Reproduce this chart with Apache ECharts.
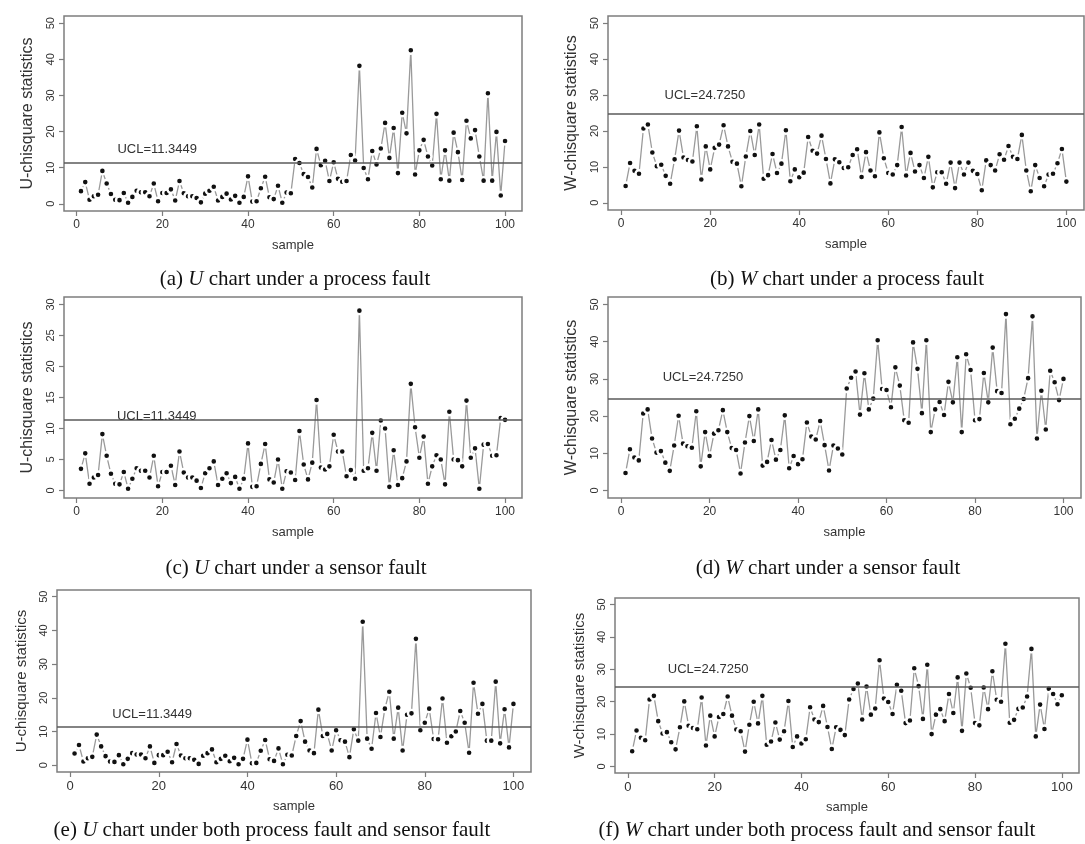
<!DOCTYPE html>
<html>
<head>
<meta charset="utf-8">
<script src="https://cdn.jsdelivr.net/npm/echarts@6/dist/echarts.min.js"></script>
<style>
  html, body { margin: 0; padding: 0; background: #fff; }
  #chart { width: 1085px; height: 844px; }
</style>
</head>
<body>
<div id="chart"></div>
<script>
// sample index on the x axis
const samples = []
for (let i = 1; i <= 100; i++) samples.push(i)

const xTicks = [0, 20, 40, 60, 80, 100]
const yTicks50 = [0, 10, 20, 30, 40, 50]
const yTicks30 = [0, 5, 10, 15, 20, 25, 30]

// in-control part (samples 1-50), shared by all U charts
const uBase = [
  3.5, 6.0, 1.1, 2.1, 2.5, 9.1, 5.6, 2.7, 1.1, 1.0,
  3.0, 0.3, 1.9, 3.6, 3.2, 3.2, 2.1, 5.6, 0.7, 3.0,
  3.0, 4.0, 0.9, 6.3, 2.9, 2.1, 2.1, 1.6, 0.4, 2.8,
  3.6, 4.7, 0.9, 1.9, 2.8, 1.2, 2.2, 0.3, 1.9, 7.6,
  0.6, 0.7, 4.3, 7.5, 1.8, 1.3, 5.0, 0.3, 3.1, 2.9
]
// samples 51-100
const uProcess = [
  12.4, 11.3, 8.2, 7.4, 4.5, 15.2, 10.7, 11.9, 6.3, 11.5,
  6.9, 6.1, 6.3, 13.5, 12.0, 38.2, 9.9, 6.8, 14.6, 10.9,
  15.3, 22.4, 12.7, 21.0, 8.5, 25.2, 19.5, 42.5, 8.1, 14.8,
  17.7, 13.1, 10.6, 24.9, 6.8, 14.8, 6.4, 19.7, 14.3, 6.6,
  23.0, 18.1, 20.4, 13.1, 6.4, 30.6, 6.4, 19.9, 2.3, 17.4
]
const uSensor = [
  1.7, 9.6, 4.2, 1.8, 4.5, 14.6, 3.7, 3.4, 3.9, 9.0,
  6.3, 6.3, 2.3, 3.3, 1.9, 29.0, 3.2, 3.6, 9.3, 3.2,
  11.3, 10.0, 0.6, 6.5, 0.9, 2.0, 4.7, 17.2, 10.2, 5.3,
  8.7, 1.1, 3.9, 5.7, 5.0, 1.0, 12.7, 5.0, 4.9, 3.9,
  14.5, 5.3, 6.8, 0.3, 7.4, 7.5, 5.6, 5.7, 11.7, 11.4
]
const uBoth = [
  8.7, 13.1, 7.0, 4.4, 3.6, 16.5, 8.7, 9.3, 4.4, 10.4,
  7.4, 7.0, 2.4, 10.7, 7.3, 42.6, 7.9, 4.9, 15.5, 8.4,
  16.8, 21.8, 7.9, 17.1, 4.4, 15.0, 15.4, 37.5, 10.4, 12.6,
  16.8, 7.8, 7.7, 19.8, 6.7, 8.6, 10.0, 16.1, 12.6, 3.7,
  24.5, 15.3, 18.2, 7.3, 7.3, 24.8, 6.5, 16.6, 5.3, 18.2
]

// in-control part (samples 1-50), shared by all W charts
const wBase = [
  4.7, 11.1, 8.9, 8.1, 20.7, 21.8, 14.0, 10.2, 10.6, 7.5,
  5.3, 12.1, 20.1, 12.6, 11.9, 11.5, 21.3, 6.5, 15.7, 9.3,
  15.3, 16.2, 21.6, 15.7, 11.4, 10.9, 4.6, 12.9, 20.0, 13.3,
  21.8, 6.7, 7.7, 13.6, 8.3, 10.9, 20.2, 6.0, 9.3, 7.1,
  8.4, 18.3, 14.5, 13.7, 18.7, 12.2, 5.4, 12.1, 11.3, 9.7
]
const wProcess = [
  9.9, 13.3, 14.9, 7.2, 14.1, 9.0, 7.4, 19.6, 12.4, 8.3,
  7.9, 10.5, 21.1, 7.6, 13.9, 8.7, 10.5, 6.9, 12.8, 4.3,
  8.5, 8.5, 5.3, 11.2, 4.1, 11.2, 7.9, 11.2, 8.9, 8.0,
  3.5, 11.8, 10.5, 9.0, 13.5, 12.0, 15.8, 12.8, 12.2, 18.9,
  9.0, 3.2, 10.5, 6.9, 4.6, 7.9, 8.1, 11.0, 15.0, 5.9
]
const wSensor = [
  27.4, 30.3, 32.0, 20.4, 31.5, 21.8, 24.7, 40.4, 27.3, 27.0,
  22.4, 33.1, 28.2, 18.9, 18.2, 39.8, 32.7, 20.8, 40.4, 15.7,
  21.8, 23.8, 20.3, 29.2, 23.7, 35.8, 15.7, 36.6, 32.4, 18.9,
  19.2, 31.6, 23.7, 38.4, 26.7, 26.2, 47.4, 17.8, 19.3, 22.0,
  24.6, 30.2, 46.8, 14.0, 26.8, 16.4, 32.2, 29.1, 24.3, 30.0
]
const wBoth = [
  20.7, 23.9, 25.6, 14.5, 24.7, 16.0, 17.9, 32.8, 21.0, 19.9,
  16.2, 25.2, 23.4, 13.4, 14.2, 30.3, 24.8, 14.7, 31.4, 10.0,
  16.0, 17.7, 14.0, 22.4, 16.5, 27.5, 11.0, 28.7, 24.3, 13.4,
  12.7, 24.4, 17.7, 29.4, 20.6, 20.0, 37.9, 13.5, 14.4, 17.8,
  18.2, 21.6, 36.3, 9.3, 19.1, 11.6, 24.0, 22.4, 19.2, 22.0
]

const uclU = 11.3449
const uclW = 24.725
const uclUText = 'UCL=11.3449'
const uclWText = 'UCL=24.7250'

const captions = [
  '(a) {i|U} chart under a process fault',
  '(b) {i|W} chart under a process fault',
  '(c) {i|U} chart under a sensor fault',
  '(d) {i|W} chart under a sensor fault',
  '(e) {i|U} chart under both process fault and sensor fault',
  '(f) {i|W} chart under both process fault and sensor fault'
]

const panels = [
  { values: uBase.concat(uProcess), ucl: uclU, uclText: uclUText, textAt: [18.8, 15.0], yName: 'U-chisquare statistics', yMin: -2, yMax: 52, ticks: yTicks50,
    grid: { left: 64, top: 16, width: 458, height: 195 }, cap: [295, 279], small: true },
  { values: wBase.concat(wProcess), ucl: uclW, uclText: uclWText, textAt: [18.8, 30.0], yName: 'W-chisquare statistics', yMin: -2, yMax: 52, ticks: yTicks50,
    grid: { left: 608, top: 16, width: 476, height: 194 }, cap: [847, 279], small: true },
  { values: uBase.concat(uSensor), ucl: uclU, uclText: uclUText, textAt: [18.7, 12.0], yName: 'U-chisquare statistics', yMin: -1.2, yMax: 31.2, ticks: yTicks30,
    grid: { left: 64, top: 297, width: 458, height: 201 }, cap: [296, 568], small: true },
  { values: wBase.concat(wSensor), ucl: uclW, uclText: uclWText, textAt: [18.5, 30.3], yName: 'W-chisquare statistics', yMin: -2, yMax: 52, ticks: yTicks50,
    grid: { left: 608, top: 297, width: 473, height: 201 }, cap: [828, 568], small: true },
  { values: uBase.concat(uBoth), ucl: uclU, uclText: uclUText, textAt: [18.5, 15.2], yName: 'U-chisquare statistics', yMin: -2, yMax: 52, ticks: yTicks50,
    grid: { left: 57, top: 590, width: 474, height: 182 }, cap: [272, 830], small: false },
  { values: wBase.concat(wBoth), ucl: uclW, uclText: uclWText, textAt: [18.5, 30.1], yName: 'W-chisquare statistics', yMin: -2, yMax: 52, ticks: yTicks50,
    grid: { left: 615, top: 598, width: 464, height: 175 }, cap: [817, 830], small: false }
]

const boxColor = '#7d7d7d'
const textColor = '#333'
const sans = 'Liberation Sans, Arial, sans-serif'
const serif = 'Liberation Serif, Times New Roman, serif'

const chart = echarts.init(document.getElementById('chart'))

const option = {
  animation: false,
  backgroundColor: '#fff',
  grid: panels.map((p) => ({
    ...p.grid,
    show: true,
    borderColor: boxColor,
    borderWidth: 1.5,
    containLabel: false
  })),
  xAxis: panels.map((p, i) => ({
    type: 'value',
    gridIndex: i,
    min: -2.96,
    max: 103.96,
    name: 'sample',
    nameLocation: 'middle',
    nameGap: 28,
    nameTextStyle: { fontFamily: sans, fontSize: 13, color: textColor },
    axisLine: { show: false, onZero: false },
    axisTick: { show: true, length: 5, customValues: xTicks, lineStyle: { color: boxColor, width: 1.2 } },
    axisLabel: { customValues: xTicks, margin: 8, fontFamily: sans, fontSize: p.small ? 12 : 13, color: textColor },
    splitLine: { show: false }
  })),
  yAxis: panels.map((p, i) => ({
    type: 'value',
    gridIndex: i,
    min: p.yMin,
    max: p.yMax,
    name: p.yName,
    nameLocation: 'middle',
    nameGap: 28,
    nameTextStyle: { fontFamily: sans, fontSize: p.small ? 16 : 15, color: textColor },
    axisLine: { show: false, onZero: false },
    axisTick: { show: true, length: 5, customValues: p.ticks, lineStyle: { color: boxColor, width: 1.2 } },
    axisLabel: { customValues: p.ticks, rotate: 90, margin: 8, fontFamily: sans, fontSize: 11, color: textColor },
    splitLine: { show: false }
  })),
  series: panels.map((p, i) => ({
    type: 'line',
    xAxisIndex: i,
    yAxisIndex: i,
    data: samples.map((s, k) => [s, p.values[k]]),
    symbol: 'circle',
    symbolSize: 7,
    showSymbol: true,
    itemStyle: { color: '#111', borderColor: '#fff', borderWidth: 2.4 },
    lineStyle: { color: '#9a9a9a', width: 1.3 },
    emphasis: { disabled: true },
    markLine: {
      silent: true,
      symbol: 'none',
      label: { show: false },
      lineStyle: { color: '#5a5a5a', width: 1.5, type: 'solid' },
      data: [{ yAxis: p.ucl }]
    },
    markPoint: {
      silent: true,
      symbolSize: 0,
      label: {
        show: true,
        position: 'inside',
        formatter: p.uclText,
        fontFamily: sans,
        fontSize: 13,
        color: textColor
      },
      data: [{ coord: p.textAt }]
    }
  })),
  graphic: panels.map((p, i) => ({
    type: 'text',
    x: p.cap[0],
    y: p.cap[1],
    style: {
      text: captions[i],
      fill: '#111',
      fontFamily: serif,
      fontSize: 21,
      align: 'center',
      verticalAlign: 'middle',
      rich: {
        i: { fontStyle: 'italic', fontFamily: serif, fontSize: 21, fill: '#111' }
      }
    }
  }))
}

chart.setOption(option)
</script>
</body>
</html>
